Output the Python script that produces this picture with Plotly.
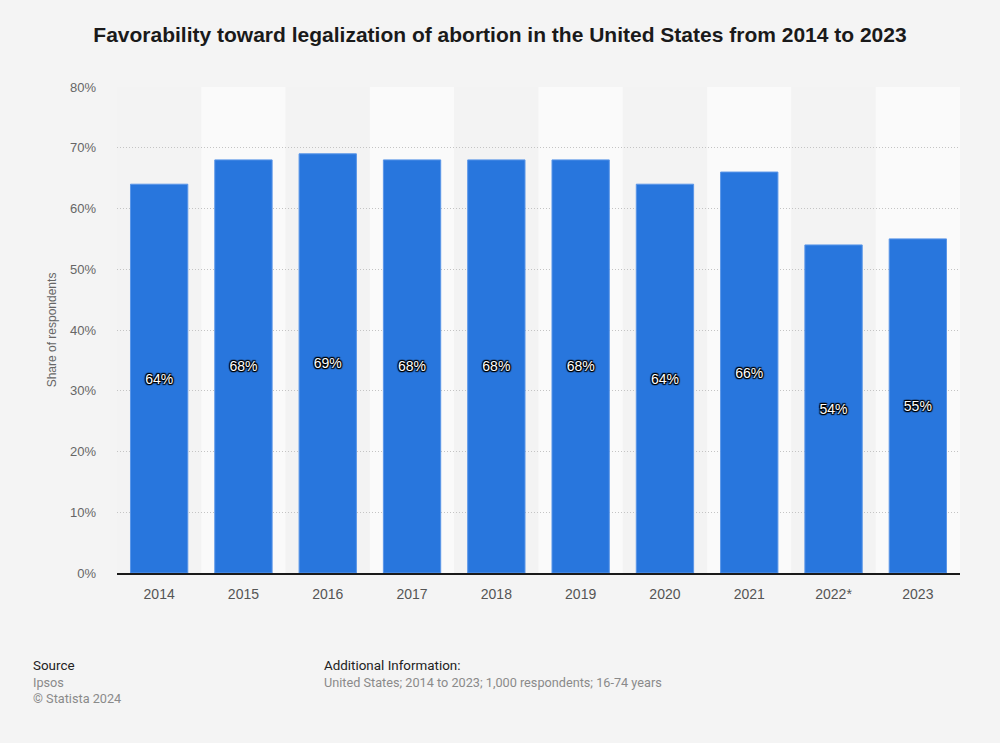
import plotly.graph_objects as go

years = ["2014", "2015", "2016", "2017", "2018", "2019", "2020", "2021", "2022*", "2023"]
values = [64, 68, 69, 68, 68, 68, 64, 66, 54, 55]
y_ticks = [0, 10, 20, 30, 40, 50, 60, 70, 80]
y_tick_labels = [f"{v}%" for v in y_ticks]

FONT = "Liberation Sans, Arial, sans-serif"
FOOT_FONT = "Roboto, Liberation Sans, Arial, sans-serif"

fig = go.Figure()
fig.add_trace(go.Bar(
    x=years, y=values,
    marker=dict(color="#2876dd", line=dict(color="#5a96e8", width=1)),
    width=0.68,
    text=[f"{v}%" for v in values],
    textposition="inside",
    insidetextanchor="middle",
    textangle=0,
    textfont=dict(family=FONT, size=14, color="white",
                  shadow="1px 1px 1px #000, -1px -1px 1px #000, 1px -1px 1px #000, -1px 1px 1px #000, 0px 1px 1px #000, 0px -1px 1px #000"),
    hoverinfo="skip",
))

shapes = []
for i, _ in enumerate(years):
    shapes.append(dict(
        type="rect", xref="x", yref="paper",
        x0=i - 0.5, x1=i + 0.5, y0=0, y1=1,
        fillcolor="#fafafa" if i % 2 == 1 else "#f3f3f3",
        line=dict(width=0), layer="below",
    ))

fig.update_layout(
    width=1000, height=743,
    paper_bgcolor="#f4f4f4", plot_bgcolor="#f4f4f4",
    margin=dict(l=117, r=40, t=87, b=170),
    showlegend=False,
    shapes=shapes,
    title=dict(
        text="<b>Favorability toward legalization of abortion in the United States from 2014 to 2023</b>",
        x=0.5, xanchor="center", y=1 - 35 / 743, yanchor="middle", yref="container",
        font=dict(family=FONT, size=21, color="#1a1a1a"),
    ),
    xaxis=dict(
        showgrid=False, showline=True, linecolor="#1a1a1a", linewidth=1.5,
        tickfont=dict(family=FONT, size=14, color="#555555"),
        ticks="", ticklabelstandoff=7,
        range=[-0.5, len(years) - 0.5],
    ),
    yaxis=dict(
        range=[0, 80], tickvals=y_ticks, ticktext=y_tick_labels,
        showgrid=True, gridcolor="#c4c4c4", griddash="1px,2px", gridwidth=1,
        zeroline=False, showline=False, ticks="",
        tickfont=dict(family=FONT, size=13, color="#666666"),
        ticklabelstandoff=20,
        title=dict(text="Share of respondents", font=dict(family=FONT, size=12, color="#666666"), standoff=10),
    ),
)

# footer texts positioned from pixel coordinates
plot_w = 1000 - 117 - 40
plot_h = 743 - 87 - 170
footer = [
    ("Source", 31, 665, True),
    ("Ipsos", 31, 682, False),
    ("© Statista 2024", 31, 698, False),
    ("Additional Information:", 322, 665, True),
    ("United States; 2014 to 2023; 1,000 respondents; 16-74 years", 322, 682, False),
]
ann = []
for text, px, py, dark in footer:
    ann.append(dict(
        text=text, showarrow=False, xref="paper", yref="paper",
        x=(px - 117) / plot_w, y=(743 - 170 - py) / plot_h,
        xanchor="left", yanchor="middle",
        font=dict(family=FOOT_FONT, size=13.4 if dark else 12.7, color="#222222" if dark else "#8a8a8a"),
    ))
fig.update_layout(annotations=ann)

fig.write_html(
    "out.html",
    config={"displayModeBar": False},
    post_script="document.body.style.margin='0';document.body.style.background='#f4f4f4';",
)
